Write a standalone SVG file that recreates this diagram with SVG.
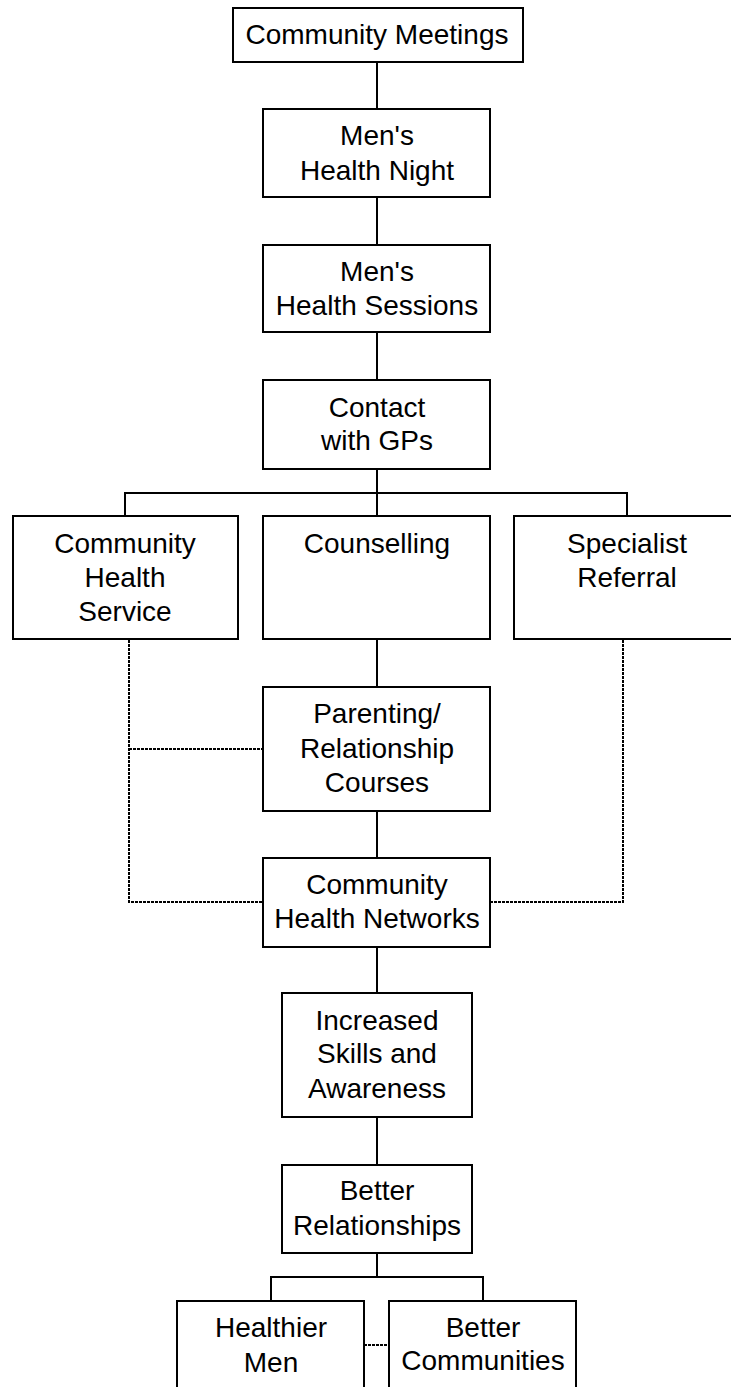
<svg xmlns="http://www.w3.org/2000/svg" width="731" height="1387" viewBox="0 0 731 1387">
<style>
.box{fill:#fff;stroke:#000;stroke-width:2}
.t{font-family:"Liberation Sans",Arial,sans-serif;font-size:28px;fill:#000;text-anchor:middle}
.ln{fill:none;stroke:#000;stroke-width:2}
.dot{fill:none;stroke:#000;stroke-width:2;stroke-dasharray:3 1}
</style>
<rect width="731" height="1387" fill="#fff"/>
<g id="connectors">
<path class="ln" d="M377 62V109M377 197V245M377 332V380M377 469V493M125 493H627M125 492V516M377 492V516M627 492V516M377 639V687M377 811V858M377 947V993M377 1117V1165M377 1253V1277M271 1277H483M271 1276V1301M483 1276V1301"/>
<path class="dot" d="M129 640V902H263M129 749H263M623 640V902H490M364 1345H389"/>
</g>
<g id="n1"><rect class="box" x="233" y="8" width="290" height="54"/><text class="t" x="377" y="44">Community Meetings</text></g>
<g id="n2"><rect class="box" x="263" y="109" width="227" height="88"/><text class="t" x="377" y="145">Men's</text><text class="t" x="377" y="180">Health Night</text></g>
<g id="n3"><rect class="box" x="263" y="245" width="227" height="87"/><text class="t" x="377" y="281">Men's</text><text class="t" x="377" y="315">Health Sessions</text></g>
<g id="n4"><rect class="box" x="263" y="380" width="227" height="89"/><text class="t" x="377" y="417">Contact</text><text class="t" x="377" y="450">with GPs</text></g>
<g id="n5"><rect class="box" x="13" y="516" width="225" height="123"/><text class="t" x="125" y="553">Community</text><text class="t" x="125" y="587">Health</text><text class="t" x="125" y="621">Service</text></g>
<g id="n6"><rect class="box" x="263" y="516" width="227" height="123"/><text class="t" x="377" y="553">Counselling</text></g>
<g id="n7"><rect class="box" x="514" y="516" width="226" height="123"/><text class="t" x="627" y="553">Specialist</text><text class="t" x="627" y="587">Referral</text></g>
<g id="n8"><rect class="box" x="263" y="687" width="227" height="124"/><text class="t" x="377" y="723">Parenting/</text><text class="t" x="377" y="758">Relationship</text><text class="t" x="377" y="792">Courses</text></g>
<g id="n9"><rect class="box" x="263" y="858" width="227" height="89"/><text class="t" x="377" y="894">Community</text><text class="t" x="377" y="928">Health Networks</text></g>
<g id="n10"><rect class="box" x="282" y="993" width="190" height="124"/><text class="t" x="377" y="1030">Increased</text><text class="t" x="377" y="1063">Skills and</text><text class="t" x="377" y="1098">Awareness</text></g>
<g id="n11"><rect class="box" x="282" y="1165" width="190" height="88"/><text class="t" x="377" y="1200">Better</text><text class="t" x="377" y="1235">Relationships</text></g>
<g id="n12"><rect class="box" x="177" y="1301" width="187" height="100"/><text class="t" x="271" y="1337">Healthier</text><text class="t" x="271" y="1372">Men</text></g>
<g id="n13"><rect class="box" x="389" y="1301" width="187" height="100"/><text class="t" x="483" y="1337">Better</text><text class="t" x="483" y="1370">Communities</text></g>
</svg>
